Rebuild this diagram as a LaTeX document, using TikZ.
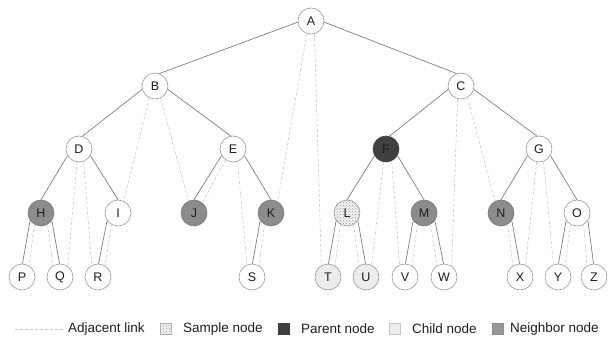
\documentclass[tikz,border=0pt]{standalone}
\usepackage{fontspec}
\setmainfont{Liberation Sans}
\usetikzlibrary{patterns}
\definecolor{edgegray}{HTML}{808080}
\definecolor{adjgray}{HTML}{C8C8C8}
\definecolor{ringgray}{HTML}{9A9A9A}
\definecolor{neighborfill}{HTML}{8C8C8C}
\definecolor{parentfill}{HTML}{404040}
\definecolor{childfill}{HTML}{ECECEC}
\definecolor{samplefill}{HTML}{F2F2F2}
\definecolor{txt}{HTML}{1E1E1E}
\tikzset{
  tnode/.style={circle, draw=ringgray, line width=0.6pt, fill=white, minimum size=26pt, inner sep=0pt, font=\fontsize{12.5}{12.5}\selectfont, text=txt},
  neighbor/.style={tnode, fill=neighborfill, draw=neighborfill!85!black},
  parentn/.style={tnode, fill=parentfill, draw=parentfill},
  childn/.style={tnode, fill=childfill},
  samplen/.style={tnode, fill=samplefill, postaction={pattern=crosshatch dots, pattern color=gray!75}},
  treeedge/.style={draw=edgegray, line width=0.7pt},
  adjlink/.style={draw=adjgray, line width=0.6pt, dash pattern=on 3pt off 2pt},
  legtext/.style={anchor=west, inner sep=0pt, font=\fontsize{13.5}{13.5}\selectfont, text=txt},
  swatch/.style={minimum size=11pt, inner sep=0pt, line width=0.5pt}
}
\begin{document}
\begin{tikzpicture}[x=1pt,y=-1pt]
\useasboundingbox (0,0) rectangle (608,342);
% nodes
\node[tnode] (A) at (311,21) {A};
\node[tnode] (B) at (155,86) {B};
\node[tnode] (C) at (461,86) {C};
\node[tnode] (D) at (79,149) {D};
\node[tnode] (E) at (233,149) {E};
\node[parentn] (F) at (386,149) {F};
\node[tnode] (G) at (539,149) {G};
\node[neighbor] (H) at (41,213) {H};
\node[tnode] (I) at (118,213) {I};
\node[neighbor] (J) at (194,213) {J};
\node[neighbor] (K) at (271,213) {K};
\node[samplen] (L) at (347,213) {L};
\node[neighbor] (M) at (424,213) {M};
\node[neighbor] (N) at (501,213) {N};
\node[tnode] (O) at (577,213) {O};
\node[tnode] (P) at (22,277) {P};
\node[tnode] (Q) at (60,277) {Q};
\node[tnode] (R) at (98,277) {R};
\node[tnode] (S) at (252,277) {S};
\node[childn] (T) at (328,277) {T};
\node[childn] (U) at (366,277) {U};
\node[tnode] (V) at (405,277) {V};
\node[tnode] (W) at (444,277) {W};
\node[tnode] (X) at (520,277) {X};
\node[tnode] (Y) at (558,277) {Y};
\node[tnode] (Z) at (594,277) {Z};
% tree edges
\draw[treeedge] (A.185) -- (B.70);
\draw[treeedge] (A.355) -- (C.110);
\draw[treeedge] (B.195) -- (D.75);
\draw[treeedge] (B.345) -- (E.100);
\draw[treeedge] (C.195) -- (F.75);
\draw[treeedge] (C.345) -- (G.100);
\foreach \p/\l/\r in {D/H/I, E/J/K, F/L/M, G/N/O}{
  \draw[treeedge] (\p.210) -- (\l.90);
  \draw[treeedge] (\p.330) -- (\r.90);
}
\foreach \p/\c in {H/P, I/R, K/S, L/T, M/V, O/Y}{
  \draw[treeedge] (\p.215) -- (\c.88);
  \draw[adjlink] (\p.240) -- (\c.58);
}
\foreach \p/\c in {H/Q, L/U, M/W, N/X, O/Z}{
  \draw[treeedge] (\p.325) -- (\c.92);
  \draw[adjlink] (\p.300) -- (\c.122);
}
% adjacent links
\draw[adjlink] (A.252) -- (K.60);
\draw[adjlink] (A.285) -- (T.120);
\draw[adjlink] (B.245) -- (I.65);
\draw[adjlink] (B.295) -- (J.115);
\draw[adjlink] (C.255) -- (W.55);
\draw[adjlink] (C.300) -- (N.118);
\draw[adjlink] (D.262) -- (Q.55);
\draw[adjlink] (D.290) -- (R.118);
\draw[adjlink] (E.235) -- (J.50);
\draw[adjlink] (E.290) -- (S.112);
\draw[adjlink] (F.260) -- (U.65);
\draw[adjlink] (F.295) -- (V.114);
\draw[adjlink] (G.260) -- (X.65);
\draw[adjlink] (G.290) -- (Y.110);
% legend
\coordinate (lg1) at (15,329);
\coordinate (lg2) at (63,329);
\draw[adjlink] (lg1) -- (lg2);
\node[legtext] (lt1) at (68,329) {Adjacent link};
\node[swatch, draw=gray!60, fill=samplefill, postaction={pattern=crosshatch dots, pattern color=gray!75}] (ls2) at (166,328.5) {};
\node[legtext] (lt2) at (183,329) {Sample node};
\node[swatch, draw=parentfill, fill=parentfill] (ls3) at (283.5,328.5) {};
\node[legtext] (lt3) at (301,329) {Parent node};
\node[swatch, draw=gray!45, fill=childfill] (ls4) at (395,328.5) {};
\node[legtext] (lt4) at (412,329) {Child node};
\node[swatch, draw=neighborfill, fill=neighborfill!90!white] (ls5) at (498,328.5) {};
\node[legtext] (lt5) at (510,329) {Neighbor node};
\end{tikzpicture}
\end{document}
